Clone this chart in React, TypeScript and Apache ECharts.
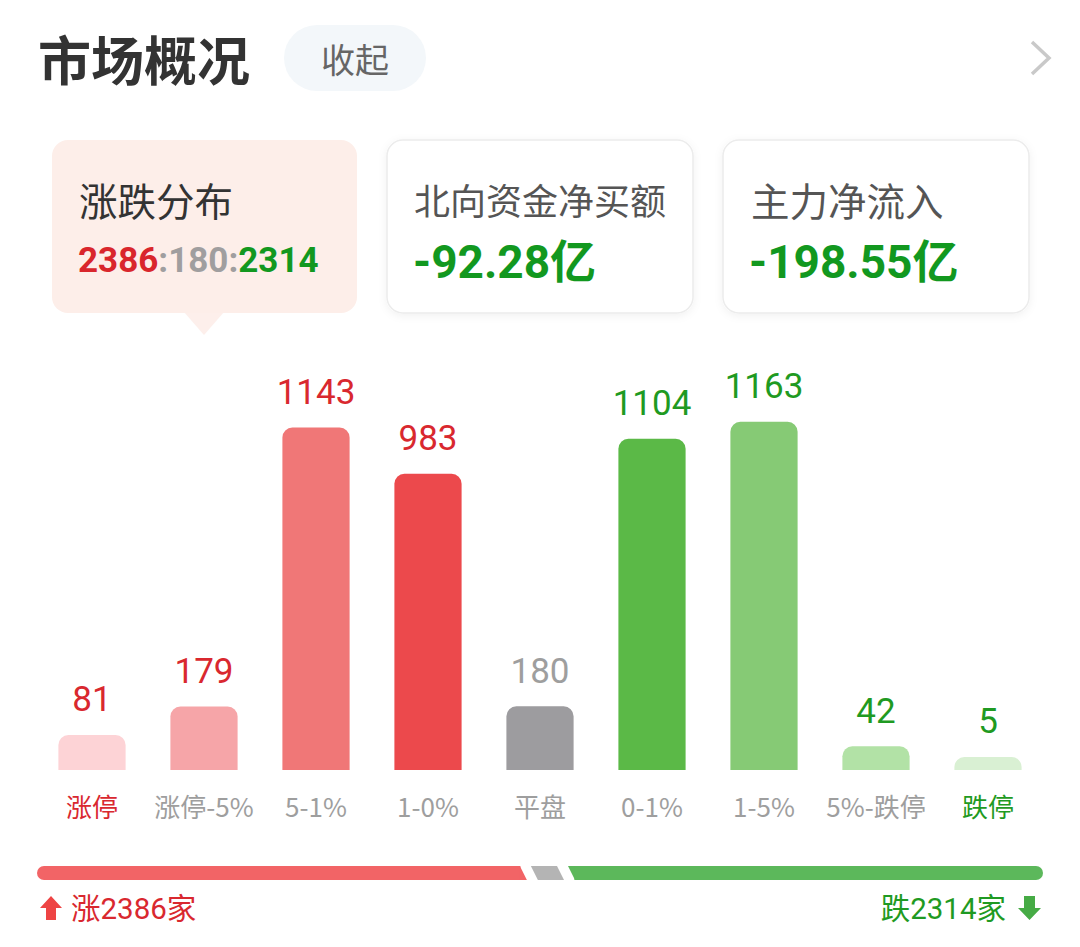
import React, { useEffect, useRef } from 'react';
import * as echarts from 'echarts';

const categories = ['涨停', '涨停-5%', '5-1%', '1-0%', '平盘', '0-1%', '1-5%', '5%-跌停', '跌停'];
const counts = [81, 179, 1143, 983, 180, 1104, 1163, 42, 5];
const barColors = ['#fdd3d6', '#f6a5a8', '#f07777', '#ec494c', '#9d9c9f', '#5bb947', '#86ca75', '#b2e2a6', '#d9f0d3'];
const valueColors = ['#d9282f', '#d9282f', '#d9282f', '#d9282f', '#9e9e9e', '#1f9a22', '#1f9a22', '#1f9a22', '#1f9a22'];
const ratioNames = ['涨', '平', '跌'];
const ratioValues = [2386, 180, 2314];
const ratioColors = ['#f26466', '#b4b4b4', '#5cb85b'];
const northboundNet = '-92.28亿';
const mainNetInflow = '-198.55亿';

const CJK = '"Noto Sans CJK SC", "Noto Sans", sans-serif';
const NUM = 'Roboto, "Noto Sans CJK SC", sans-serif';

export default function App() {
  const ref = useRef<HTMLDivElement>(null);
  useEffect(() => {
    const chart = echarts.init(ref.current!, null, { renderer: 'svg' });
    const total = ratioValues.reduce((a, b) => a + b, 0);
    let acc = 0;
    const ratioData = ratioValues.map((v, i) => {
      const s = acc;
      acc += v;
      return [s, acc, i];
    });

    const option: any = {
      animation: false,
      backgroundColor: '#ffffff',
      grid: [
        { left: 36, width: 1008, top: 411, height: 359 },
        { left: 37, width: 1006, top: 866, height: 14 },
      ],
      xAxis: [
        {
          gridIndex: 0,
          type: 'category',
          data: categories,
          axisLine: { show: false, onZero: false },
          axisTick: { show: false },
          axisLabel: {
            margin: 22,
            interval: 0,
            formatter: (v: string, i: number) =>
              i === 0 ? `{r|${v}}` : i === categories.length - 1 ? `{g|${v}}` : `{n|${v}}`,
            rich: {
              r: { color: '#d9282f', fontSize: 26, fontFamily: CJK },
              g: { color: '#1f9a22', fontSize: 26, fontFamily: CJK },
              n: { color: '#9e9e9e', fontSize: 26, fontFamily: CJK },
            },
          },
        },
        { gridIndex: 1, type: 'value', min: 0, max: total, show: false },
      ],
      yAxis: [
        { gridIndex: 0, type: 'value', min: -40, max: 1200, show: false },
        { gridIndex: 1, type: 'category', data: ['ratio'], show: false },
      ],
      series: [
        {
          type: 'custom',
          xAxisIndex: 0,
          yAxisIndex: 0,
          data: counts.map((v, i) => [i, v]),
          renderItem: (params: any, api: any) => {
            const idx = params.dataIndex;
            const v = api.value(1);
            const top = api.coord([api.value(0), v]);
            const base = api.coord([api.value(0), -40]);
            const w = api.size([1, 0])[0] * 0.6;
            return {
              type: 'group',
              children: [
                {
                  type: 'rect',
                  shape: { x: top[0] - w / 2, y: top[1], width: w, height: base[1] - top[1], r: [10, 10, 0, 0] },
                  style: { fill: barColors[idx] },
                },
                {
                  type: 'text',
                  style: {
                    text: String(v),
                    x: top[0],
                    y: top[1] - 35,
                    align: 'center',
                    verticalAlign: 'middle',
                    fill: valueColors[idx],
                    fontSize: 35,
                    fontFamily: NUM,
                  },
                },
              ],
            };
          },
        },
        {
          type: 'custom',
          xAxisIndex: 1,
          yAxisIndex: 1,
          data: ratioData,
          encode: { x: [0, 1] },
          renderItem: (params: any, api: any) => {
            const idx = params.dataIndex;
            const n = ratioValues.length;
            const a = api.coord([api.value(0), 0]);
            const b = api.coord([api.value(1), 0]);
            const h = api.size([0, 1])[1];
            const yt = a[1] - h / 2;
            const yb = a[1] + h / 2;
            const gap = 11;
            const slant = 7;
            const fill = ratioColors[idx];
            const children: any[] = [];
            const lt = idx === 0 ? a[0] : a[0] + gap / 2 - slant / 2;
            const lb = idx === 0 ? a[0] : a[0] + gap / 2 + slant / 2;
            const rt = idx === n - 1 ? b[0] : b[0] - gap / 2 - slant / 2;
            const rb = idx === n - 1 ? b[0] : b[0] - gap / 2 + slant / 2;
            if (idx === 0) {
              children.push({
                type: 'rect',
                shape: { x: lt, y: yt, width: rt - lt + 0.5, height: h, r: [h / 2, 0, 0, h / 2] },
                style: { fill },
              });
              children.push({ type: 'polygon', shape: { points: [[rt, yt], [rb, yb], [rt, yb]] }, style: { fill } });
            } else if (idx === n - 1) {
              children.push({ type: 'polygon', shape: { points: [[lt, yt], [lb, yb], [lb, yt]] }, style: { fill } });
              children.push({
                type: 'rect',
                shape: { x: lb - 0.5, y: yt, width: rb - lb + 0.5, height: h, r: [0, h / 2, h / 2, 0] },
                style: { fill },
              });
            } else {
              children.push({
                type: 'polygon',
                shape: { points: [[lt, yt], [rt, yt], [rb, yb], [lb, yb]] },
                style: { fill },
              });
            }
            return { type: 'group', children };
          },
        },
      ],
      graphic: [
        // header
        {
          type: 'text',
          left: 38,
          top: 31,
          style: { text: '市场概况', fontSize: 53, fontWeight: 'bold', fill: '#333333', fontFamily: CJK },
        },
        {
          type: 'rect',
          shape: { x: 284, y: 25, width: 142, height: 66, r: 33 },
          style: { fill: '#f3f7fa' },
        },
        {
          type: 'text',
          style: {
            text: '收起',
            x: 355,
            y: 58,
            align: 'center',
            verticalAlign: 'middle',
            fontSize: 34,
            fill: '#666666',
            fontFamily: CJK,
          },
        },
        {
          type: 'polyline',
          shape: { points: [[1032, 42], [1049, 58], [1032, 74]] },
          style: { stroke: '#c9c9c9', lineWidth: 3.5, fill: 'none' },
        },
        // card 1
        {
          type: 'polygon',
          shape: { points: [[184, 312], [224, 312], [204, 335]] },
          style: { fill: '#fdefeb' },
        },
        {
          type: 'rect',
          shape: { x: 52, y: 140, width: 305, height: 173, r: 16 },
          style: { fill: '#fdeee9' },
        },
        {
          type: 'text',
          style: {
            text: '涨跌分布',
            x: 79,
            y: 199,
            verticalAlign: 'middle',
            fontSize: 38.5,
            fill: '#333333',
            fontFamily: CJK,
          },
        },
        {
          type: 'text',
          style: {
            text: `{r|${ratioValues[0]}}{n|:${ratioValues[1]}:}{g|${ratioValues[2]}}`,
            x: 78,
            y: 260,
            verticalAlign: 'middle',
            rich: {
              r: { fontSize: 35, fontWeight: 'bold', fill: '#d9262c', fontFamily: NUM },
              n: { fontSize: 35, fontWeight: 'bold', fill: '#a09e9f', fontFamily: NUM },
              g: { fontSize: 35, fontWeight: 'bold', fill: '#12981f', fontFamily: NUM },
            },
          },
        },
        // card 2
        {
          type: 'rect',
          shape: { x: 387, y: 140, width: 306, height: 173, r: 16 },
          style: { fill: '#ffffff', stroke: '#ececec', lineWidth: 1.5, shadowBlur: 8, shadowColor: 'rgba(0,0,0,0.06)', shadowOffsetY: 2 },
        },
        {
          type: 'text',
          style: {
            text: '北向资金净买额',
            x: 414,
            y: 199,
            verticalAlign: 'middle',
            fontSize: 36,
            fill: '#555555',
            fontFamily: CJK,
          },
        },
        {
          type: 'text',
          style: {
            text: northboundNet,
            x: 413,
            y: 262,
            verticalAlign: 'middle',
            fontSize: 46,
            fontWeight: 'bold',
            fill: '#12981f',
            fontFamily: NUM,
          },
        },
        // card 3
        {
          type: 'rect',
          shape: { x: 723, y: 140, width: 306, height: 173, r: 16 },
          style: { fill: '#ffffff', stroke: '#ececec', lineWidth: 1.5, shadowBlur: 8, shadowColor: 'rgba(0,0,0,0.06)', shadowOffsetY: 2 },
        },
        {
          type: 'text',
          style: {
            text: '主力净流入',
            x: 751,
            y: 199,
            verticalAlign: 'middle',
            fontSize: 38.5,
            fill: '#555555',
            fontFamily: CJK,
          },
        },
        {
          type: 'text',
          style: {
            text: mainNetInflow,
            x: 749,
            y: 262,
            verticalAlign: 'middle',
            fontSize: 46,
            fontWeight: 'bold',
            fill: '#12981f',
            fontFamily: NUM,
          },
        },
        // bottom legend
        {
          type: 'polygon',
          shape: { points: [[51, 896], [62, 908], [56, 908], [56, 920], [46, 920], [46, 908], [40, 908]] },
          style: { fill: '#ee4444' },
        },
        {
          type: 'text',
          style: {
            text: `${ratioNames[0]}${ratioValues[0]}家`,
            x: 71,
            y: 909,
            verticalAlign: 'middle',
            fontSize: 29.5,
            fill: '#d9282f',
            fontFamily: NUM,
          },
        },
        {
          type: 'text',
          style: {
            text: `${ratioNames[2]}${ratioValues[2]}家`,
            x: 1006,
            y: 909,
            align: 'right',
            verticalAlign: 'middle',
            fontSize: 29.5,
            fill: '#1f9a22',
            fontFamily: NUM,
          },
        },
        {
          type: 'polygon',
          shape: { points: [[1024, 896], [1035, 896], [1035, 908], [1041, 908], [1029.5, 920], [1018, 908], [1024, 908]] },
          style: { fill: '#46ab45' },
        },
      ],
    };
    chart.setOption(option);
    return () => chart.dispose();
  }, []);
  return (
    <div
      ref={ref}
      style={{ position: 'absolute', left: 0, top: 0, width: 1080, height: 947, background: '#ffffff' }}
    />
  );
}
